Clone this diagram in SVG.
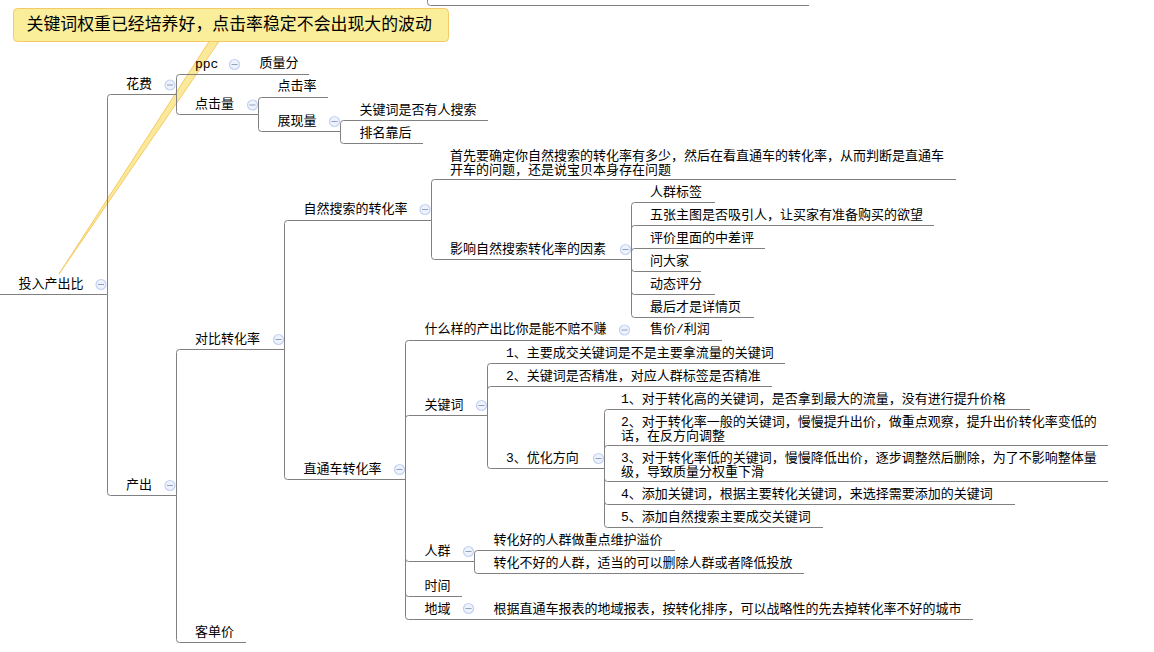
<svg xmlns="http://www.w3.org/2000/svg" width="1154" height="652" viewBox="0 0 1154 652">
<defs>
<style>
text{font-family:"Liberation Mono","Noto Sans CJK SC",sans-serif;font-size:13px;fill:#000}
.c path{fill:none;stroke:#808080;stroke-width:1}
.m circle{fill:#eef2fc;stroke:#c3d2f2;stroke-width:1.2}
.m path{stroke:#8fa0c0;stroke-width:1}
.note{font-size:16.9px}
</style>
<g id="mn" class="m"><circle r="5"/><path d="M-3 0H3"/></g>
</defs>
<rect width="1154" height="652" fill="#fff"/>
<polygon id="callout-tail" points="210,40 220,40 59,274" fill="#fbe99a" stroke="#f5c966" stroke-width="1"/>
<g id="connectors" class="c">
<path d="M427.500 0V2.500q0 3 3 3H809"/>
<path d="M0 294.500H107.500"/>
<path d="M107.500 294.500V97.500q0-3 3-3H176.500"/>
<path d="M107.500 294.500V492.500q0 3 3 3H176.500"/>
<path d="M176.500 94.500V77.500q0-3 3-3H309"/>
<path d="M176.500 94.500V111.500q0 3 3 3H258.500"/>
<path d="M258.500 114.500V100.500q0-3 3-3H328"/>
<path d="M258.500 114.500V128.500q0 3 3 3H340.500"/>
<path d="M340.500 131.500V123.500q0-3 3-3H488"/>
<path d="M340.500 131.500V140.500q0 3 3 3H423"/>
<path d="M176.500 495.500V352.500q0-3 3-3H284.500"/>
<path d="M176.500 495.500V639.500q0 3 3 3H246"/>
<path d="M284.500 349.500V223.500q0-3 3-3H431.500"/>
<path d="M284.500 349.500V476.500q0 3 3 3H405.500"/>
<path d="M431.500 220.500V182.500q0-3 3-3H956"/>
<path d="M431.500 220.500V256.500q0 3 3 3H631.500"/>
<path d="M631.500 259.500V205.500q0-3 3-3H715"/>
<path d="M631.500 259.500V228.500q0-3 3-3H934"/>
<path d="M631.500 259.500V251.500q0-3 3-3H765"/>
<path d="M631.500 259.500V268.500q0 3 3 3H701"/>
<path d="M631.500 259.500V291.500q0 3 3 3H715"/>
<path d="M631.500 259.500V314.500q0 3 3 3H754"/>
<path d="M405.500 479.500V343.500q0-3 3-3H722"/>
<path d="M405.500 479.500V418.500q0-3 3-3H487.500"/>
<path d="M405.500 479.500V558.500q0 3 3 3H474.500"/>
<path d="M405.500 479.500V593.500q0 3 3 3H462"/>
<path d="M405.500 479.500V616.500q0 3 3 3H973"/>
<path d="M487.500 415.500V366.500q0-3 3-3H785"/>
<path d="M487.500 415.500V389.500q0-3 3-3H772"/>
<path d="M487.500 415.500V465.500q0 3 3 3H604.500"/>
<path d="M604.500 468.500V412.500q0-3 3-3H1030"/>
<path d="M604.500 468.500V448.500q0-3 3-3H1108"/>
<path d="M604.500 468.500V478.500q0 3 3 3H1108"/>
<path d="M604.500 468.500V501.500q0 3 3 3H1015"/>
<path d="M604.500 468.500V524.500q0 3 3 3H823"/>
<path d="M474.500 561.500V553.500q0-3 3-3H675"/>
<path d="M474.500 561.500V570.500q0 3 3 3H804"/>
</g>
<g id="n-root"><text x="18.500" y="287.500">投入产出比</text><use href="#mn" x="101" y="284.500"/></g>
<g id="n-huafei"><text x="126" y="87.500">花费</text><use href="#mn" x="170" y="85"/></g>
<g id="n-ppc"><text x="195" y="68">ppc</text><use href="#mn" x="234.500" y="64.500"/></g>
<g id="n-zhiliang"><text x="259.500" y="67">质量分</text></g>
<g id="n-dianji"><text x="195" y="107.500">点击量</text><use href="#mn" x="252.500" y="105"/></g>
<g id="n-djl"><text x="277.500" y="90">点击率</text></g>
<g id="n-zhanxian"><text x="277.500" y="124.500">展现量</text><use href="#mn" x="334.500" y="121.500"/></g>
<g id="n-search"><text x="359.500" y="113.500">关键词是否有人搜索</text></g>
<g id="n-rank"><text x="359.500" y="136.500">排名靠后</text></g>
<g id="n-chanchu"><text x="126" y="488.500">产出</text><use href="#mn" x="170" y="485.500"/></g>
<g id="n-duibi"><text x="195" y="342.500">对比转化率</text><use href="#mn" x="278.500" y="339.500"/></g>
<g id="n-kedan"><text x="195" y="635.500">客单价</text></g>
<g id="n-ziran"><text x="303.500" y="212.500">自然搜索的转化率</text><use href="#mn" x="425" y="209.500"/></g>
<g id="n-first"><text x="450" y="159.500">首先要确定你自然搜索的转化率有多少，然后在看直通车的转化率，从而判断是直通车<tspan x="450" dy="14">开车的问题，还是说宝贝本身存在问题</tspan></text></g>
<g id="n-yingxiang"><text x="450" y="252.500">影响自然搜索转化率的因素</text><use href="#mn" x="625.500" y="249.500"/></g>
<g id="n-a1"><text x="650" y="195.500">人群标签</text></g>
<g id="n-a2"><text x="650" y="218.500">五张主图是否吸引人，让买家有准备购买的欲望</text></g>
<g id="n-a3"><text x="650" y="241.500">评价里面的中差评</text></g>
<g id="n-a4"><text x="650" y="264.500">问大家</text></g>
<g id="n-a5"><text x="650" y="287.500">动态评分</text></g>
<g id="n-a6"><text x="650" y="310.500">最后才是详情页</text></g>
<g id="n-zhitong"><text x="303.500" y="472.500">直通车转化率</text><use href="#mn" x="399.500" y="469.500"/></g>
<g id="n-what"><text x="424.500" y="332.500">什么样的产出比你是能不赔不赚</text><use href="#mn" x="624.500" y="330"/></g>
<g id="n-price"><text x="650" y="332.500">售价/利润</text></g>
<g id="n-kw"><text x="424.500" y="408.500">关键词</text><use href="#mn" x="481.500" y="405.500"/></g>
<g id="n-k1"><text x="506" y="356.500">1、主要成交关键词是不是主要拿流量的关键词</text></g>
<g id="n-k2"><text x="506" y="379.500">2、关键词是否精准，对应人群标签是否精准</text></g>
<g id="n-k3"><text x="506" y="461.500">3、优化方向</text><use href="#mn" x="598.500" y="458.500"/></g>
<g id="n-o1"><text x="621" y="402.500">1、对于转化高的关键词，是否拿到最大的流量，没有进行提升价格</text></g>
<g id="n-o2"><text x="621" y="425.500">2、对于转化率一般的关键词，慢慢提升出价，做重点观察，提升出价转化率变低的<tspan x="621" dy="14">话，在反方向调整</tspan></text></g>
<g id="n-o3"><text x="621" y="461.500">3、对于转化率低的关键词，慢慢降低出价，逐步调整然后删除，为了不影响整体量<tspan x="621" dy="14">级，导致质量分权重下滑</tspan></text></g>
<g id="n-o4"><text x="621" y="497.500">4、添加关键词，根据主要转化关键词，来选择需要添加的关键词</text></g>
<g id="n-o5"><text x="621" y="520.500">5、添加自然搜索主要成交关键词</text></g>
<g id="n-crowd"><text x="424.500" y="554.500">人群</text><use href="#mn" x="468.500" y="551.500"/></g>
<g id="n-c1"><text x="493.500" y="543.500">转化好的人群做重点维护溢价</text></g>
<g id="n-c2"><text x="493.500" y="566.500">转化不好的人群，适当的可以删除人群或者降低投放</text></g>
<g id="n-time"><text x="424.500" y="589.500">时间</text></g>
<g id="n-region"><text x="424.500" y="612.500">地域</text><use href="#mn" x="468.500" y="608.500"/></g>
<g id="n-r1"><text x="493.500" y="612.500">根据直通车报表的地域报表，按转化排序，可以战略性的先去掉转化率不好的城市</text></g>
<g id="n-note"><rect x="13.500" y="8.500" width="435" height="33" rx="4" fill="#fbee9b" stroke="#f5c966" stroke-width="1"/><text class="note" x="26.500" y="30">关键词权重已经培养好，点击率稳定不会出现大的波动</text></g>
</svg>
